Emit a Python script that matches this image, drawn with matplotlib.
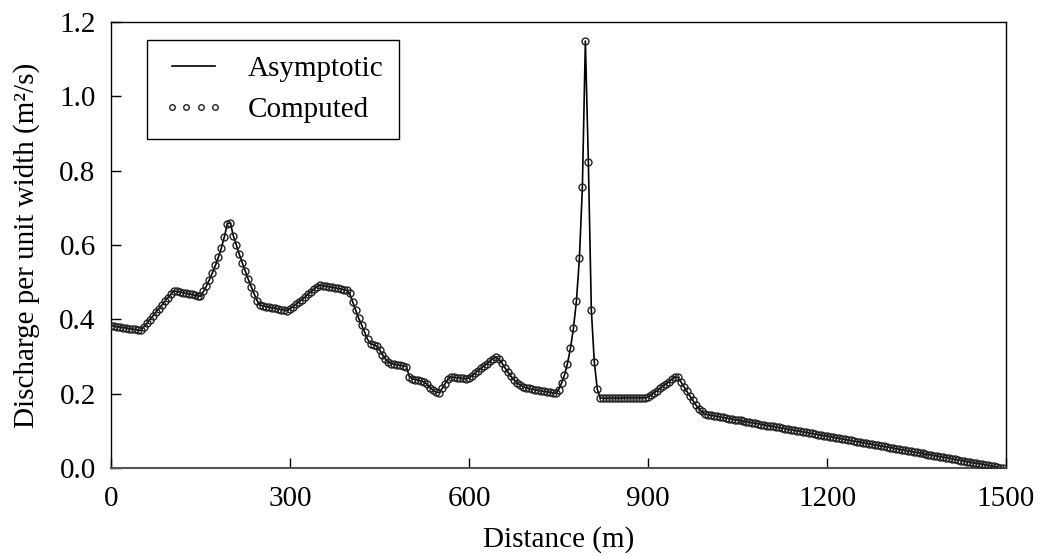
import numpy as np
import matplotlib
matplotlib.use("Agg")
import matplotlib.pyplot as plt

plt.rcParams["font.family"] = ["Liberation Serif", "DejaVu Serif"]
plt.rcParams["font.size"] = 21

# stations along the channel, every 5 m
distance = np.arange(0, 1500, 5)

# unit discharge (m^2/s) at each station
discharge = [
    # 0 - 50
    0.383, 0.382, 0.380, 0.379, 0.378, 0.377, 0.375, 0.374, 0.373, 0.371, 0.370,
    # 55 - 105
    0.380, 0.389, 0.399, 0.409, 0.419, 0.428, 0.438, 0.448, 0.458, 0.467, 0.477,
    # 110 - 150
    0.475, 0.474, 0.472, 0.470, 0.469, 0.467, 0.465, 0.464, 0.462,
    # 155 - 200
    0.475, 0.490, 0.507, 0.525, 0.545, 0.567, 0.592, 0.622, 0.657, 0.660,
    # 205 - 250
    0.625, 0.600, 0.575, 0.552, 0.530, 0.508, 0.488, 0.468, 0.450, 0.438,
    # 255 - 295
    0.436, 0.434, 0.433, 0.431, 0.430, 0.428, 0.426, 0.425, 0.423,
    # 300 - 350
    0.428, 0.434, 0.440, 0.447, 0.453, 0.460, 0.467, 0.474, 0.481, 0.487, 0.492,
    # 355 - 395
    0.491, 0.489, 0.488, 0.486, 0.485, 0.483, 0.482, 0.480, 0.478,
    # 400 - 495
    0.470, 0.447, 0.425, 0.403, 0.385, 0.366, 0.346, 0.334, 0.332, 0.328,
    0.318, 0.305, 0.293, 0.284, 0.281, 0.279, 0.278, 0.276, 0.275, 0.273,
    # 500 - 600
    0.246, 0.240, 0.238, 0.236, 0.234, 0.231, 0.225, 0.216, 0.209, 0.204,
    0.203, 0.214, 0.227, 0.240, 0.245, 0.244, 0.243, 0.242, 0.241, 0.240, 0.242,
    # 605 - 700
    0.248, 0.255, 0.262, 0.268, 0.274, 0.281, 0.287, 0.294, 0.299, 0.293,
    0.283, 0.270, 0.258, 0.247, 0.238, 0.230, 0.224, 0.219, 0.216, 0.214,
    # 705 - 745
    0.212, 0.211, 0.209, 0.208, 0.206, 0.205, 0.204, 0.202, 0.201,
    # 750 - 820
    0.210, 0.228, 0.250, 0.281, 0.322, 0.376, 0.449, 0.564, 0.756, 1.149,
    0.823, 0.425, 0.285, 0.212, 0.188,
    # 825 - 895
    0.188, 0.188, 0.188, 0.188, 0.188, 0.188, 0.188, 0.189, 0.189, 0.189,
    0.189, 0.189, 0.189, 0.189, 0.189,
    # 900 - 1000
    0.190, 0.196, 0.202, 0.208, 0.214, 0.220, 0.226, 0.232, 0.239, 0.245,
    0.244, 0.232, 0.219, 0.206, 0.194, 0.182, 0.170, 0.160, 0.152, 0.146, 0.143,
    # 1005 - 1495
    0.142, 0.141, 0.139, 0.138, 0.136, 0.135, 0.133, 0.132, 0.130, 0.129,
    0.128, 0.126, 0.125, 0.123, 0.122, 0.120, 0.119, 0.117, 0.116, 0.114,
    0.113, 0.112, 0.110, 0.109, 0.107, 0.106, 0.104, 0.103, 0.101, 0.100,
    0.099, 0.097, 0.096, 0.094, 0.093, 0.091, 0.090, 0.088, 0.087, 0.086,
    0.084, 0.083, 0.081, 0.080, 0.078, 0.077, 0.075, 0.074, 0.072, 0.071,
    0.070, 0.068, 0.067, 0.065, 0.064, 0.062, 0.061, 0.059, 0.058, 0.057,
    0.055, 0.054, 0.052, 0.051, 0.049, 0.048, 0.046, 0.045, 0.043, 0.042,
    0.041, 0.039, 0.038, 0.036, 0.035, 0.033, 0.032, 0.030, 0.029, 0.028,
    0.026, 0.025, 0.023, 0.022, 0.020, 0.019, 0.017, 0.016, 0.014, 0.013,
    0.012, 0.010, 0.009, 0.007, 0.006, 0.004, 0.003, 0.001, 0.000,
]

x_ticks = [0, 300, 600, 900, 1200, 1500]
y_ticks = [0.0, 0.2, 0.4, 0.6, 0.8, 1.0, 1.2]

fig = plt.figure(figsize=(10.55, 5.56), dpi=100)
ax = fig.add_axes([0.1052, 0.1583, 0.8484, 0.8021])

ax.plot(distance, discharge, color="black", lw=1.2, label="Asymptotic", zorder=2)
ax.plot(distance, discharge, ls="none", marker="o", ms=5, mfc="none",
        mec="#222222", mew=1.0, label="Computed", zorder=3)

ax.set_xlim(0, 1500)
ax.set_ylim(0, 1.2)
ax.set_xticks(x_ticks)
ax.set_yticks(y_ticks)
ax.set_yticklabels([f"{v:.1f}" for v in y_ticks])
ax.tick_params(axis="x", direction="in", length=7, width=1, pad=13, labelsize=21)
ax.tick_params(axis="y", direction="in", length=7, width=1, pad=11, labelsize=21)

for side in ["top", "right", "left"]:
    ax.spines[side].set_linewidth(1.0)
    ax.spines[side].set_color("black")
ax.spines["bottom"].set_linewidth(1.5)
ax.spines["bottom"].set_color("#555555")

ax.set_xlabel("Distance (m)", fontsize=21, labelpad=10)
ax.set_ylabel("Discharge per unit width (m²/s)", fontsize=21, labelpad=14)

leg = ax.legend(loc="upper left", bbox_to_anchor=(0.04, 0.96), borderaxespad=0,
                fancybox=False, edgecolor="black", framealpha=1, fontsize=21,
                handlelength=2.1, handletextpad=0.8, borderpad=0.55,
                labelspacing=0.5, numpoints=4, markerscale=0.8)
leg.get_frame().set_linewidth(1.0)

fig.savefig("out.png", dpi=100)
